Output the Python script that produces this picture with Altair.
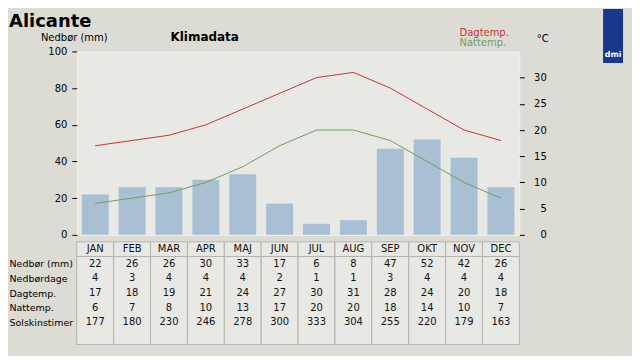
import json
import altair as alt
import pandas as pd

months = ["JAN", "FEB", "MAR", "APR", "MAJ", "JUN", "JUL", "AUG", "SEP", "OKT", "NOV", "DEC"]
nedbor = [22, 26, 26, 30, 33, 17, 6, 8, 47, 52, 42, 26]
nedbordage = [4, 3, 4, 4, 4, 2, 1, 1, 3, 4, 4, 4]
dagtemp = [17, 18, 19, 21, 24, 27, 30, 31, 28, 24, 20, 18]
nattemp = [6, 7, 8, 10, 13, 17, 20, 20, 18, 14, 10, 7]
solskin = [177, 180, 230, 246, 278, 300, 333, 304, 255, 220, 179, 163]
row_labels = ["Nedbør (mm)", "Nedbørdage", "Dagtemp.", "Nattemp.", "Solskinstimer"]
series_names = ["Dagtemp.", "Nattemp."]
left_ticks = [0, 20, 40, 60, 80, 100]
right_ticks = [0, 5, 10, 15, 20, 25, 30]

FONT = "DejaVu Sans"
BG = "#dcdcd4"
PLOT_BG = "#e8e9e4"
GRID = "#b4b4ac"
BAR = "#a8bfd4"
RED = "#cc3333"
GREEN = "#6e9e5e"
W = 444
H = 184
TH = 103

# ---------- top chart ----------
bar_df = pd.DataFrame({"month": months, "nedbor": nedbor})
day_df = pd.DataFrame({"month": months, "series": series_names[0], "temp": dagtemp})
night_df = pd.DataFrame({"month": months, "series": series_names[1], "temp": nattemp})

x_top = alt.X("month:N", sort=months,
              scale=alt.Scale(domain=months, paddingInner=0.27, paddingOuter=0.135),
              axis=None)

bars = alt.Chart(bar_df).mark_bar(color=BAR).encode(
    x=x_top,
    y=alt.Y("nedbor:Q", scale=alt.Scale(domain=[0, 100], nice=False, zero=True),
            axis=alt.Axis(orient="left", values=left_ticks, grid=False, domain=False,
                          tickSize=5, tickColor="#000", labelPadding=5,
                          labelFontSize=10, labelFont=FONT, labelColor="#000",
                          title="Nedbør (mm)", titleAngle=0, titleX=-3, titleY=-14,
                          titleAlign="center", titleBaseline="middle",
                          titleFontSize=10, titleFontWeight="normal", titleFont=FONT,
                          titleColor="#000")),
)

temp_axis = alt.Axis(orient="right", values=right_ticks, grid=False, domain=False,
                     tickSize=5, tickColor="#000", labelPadding=22, labelAlign="right",
                     labelFontSize=10, labelFont=FONT, labelColor="#000",
                     title="°C", titleAngle=0, titleX=23, titleY=-13,
                     titleAlign="center", titleBaseline="middle",
                     titleFontSize=10, titleFontWeight="normal", titleFont=FONT,
                     titleColor="#000")
temp_scale = alt.Scale(domain=[0, 35], nice=False, zero=True)


def temp_line(df, name, colour, ly):
    return alt.Chart(df).mark_line(strokeWidth=1).encode(
        x=x_top,
        y=alt.Y("temp:Q", scale=temp_scale, axis=temp_axis),
        color=alt.Color("series:N",
                        scale=alt.Scale(domain=[name], range=[colour]),
                        legend=alt.Legend(orient="none", legendX=374, legendY=ly, title=None,
                                          symbolSize=0, symbolStrokeWidth=0, symbolOpacity=0,
                                          labelFontSize=10, labelFont=FONT, labelOffset=0,
                                          labelColor=colour, rowPadding=0, padding=0)),
    )


lines = alt.layer(
    temp_line(day_df, series_names[0], RED, -23),
    temp_line(night_df, series_names[1], GREEN, -13),
).resolve_scale(color="independent").resolve_legend(color="independent")

city_df = pd.DataFrame({"t": ["Alicante"]})
city = alt.Chart(city_df).mark_text(align="left", baseline="alphabetic", fontSize=18,
                                    fontWeight="bold", font=FONT, color="#000").encode(
    text="t:N", x=alt.value(-68), y=alt.value(-24.5))

logo_df = pd.DataFrame({"t": ["dmi"]})
logo_rect = alt.Chart(logo_df).mark_rect(color="#17388c").encode(
    x=alt.value(528), x2=alt.value(548), y=alt.value(-42.5), y2=alt.value(11.5))
logo_text = alt.Chart(logo_df).mark_text(color="#ffffff", fontSize=8, fontWeight="bold",
                                         font=FONT).encode(
    text="t:N", x=alt.value(538), y=alt.value(4))

top = alt.layer(bars, lines, city, logo_rect, logo_text).resolve_scale(
    y="independent"
).properties(
    width=W, height=H,
    title=alt.TitleParams("Klimadata", anchor="start", dx=94, fontSize=12,
                          fontWeight="bold", font=FONT, color="#000", offset=-35,
                          frame="group"),
    view=alt.ViewBackground(fill=PLOT_BG, stroke="#f2f2ee"),
)

# ---------- table ----------
cell_df = pd.DataFrame({
    "month": months * 2,
    "y0": [0] * 12 + [1] * 12,
    "y1": [1] * 12 + [7] * 12,
})
rows = [nedbor, nedbordage, dagtemp, nattemp, solskin]
t_month, t_pos, t_text = [], [], []
for j, m in enumerate(months):
    t_month.append(m); t_pos.append(0.5); t_text.append(m)
    for i, r in enumerate(rows):
        t_month.append(m); t_pos.append(i + 1.5); t_text.append(str(r[j]))
text_df = pd.DataFrame({"month": t_month, "pos": t_pos, "text": t_text})

x_tab = alt.X("month:N", sort=months,
              scale=alt.Scale(domain=months, paddingInner=0, paddingOuter=0), axis=None)
label_expr = json.dumps([""] + row_labels + [""]) + "[floor(datum.value)]"
tab_axis = alt.Axis(values=[i + 1.5 for i in range(len(row_labels))], labelExpr=label_expr,
                    labelAlign="left", labelPadding=68, tickSize=0, ticks=False,
                    domain=False, grid=False, title=None, labelOverlap=False,
                    labelBound=False, labelFlush=False,
                    labelFontSize=9.5, labelFont=FONT, labelColor="#000")
y_scale = alt.Scale(domain=[0, 7], reverse=True, nice=False, zero=False)

cells = alt.Chart(cell_df).mark_rect(fill=PLOT_BG, stroke=GRID, strokeWidth=1).encode(
    x=x_tab,
    y=alt.Y("y0:Q", scale=y_scale, axis=tab_axis),
    y2="y1:Q",
)
texts = alt.Chart(text_df).mark_text(fontSize=10, font=FONT, color="#111").encode(
    x=x_tab,
    y=alt.Y("pos:Q", scale=y_scale, axis=tab_axis),
    text="text:N",
)
table = alt.layer(cells, texts).properties(
    width=W, height=TH,
    view=alt.ViewBackground(fill="transparent", stroke="transparent"),
)

chart = alt.vconcat(top, table, spacing=0).resolve_scale(
    x="independent", y="independent"
).configure(
    background=BG, font=FONT,
    padding={"left": 0, "top": 0, "right": 8, "bottom": 10},
)

chart.save("out.html", embed_options={"renderer": "svg", "actions": False})
